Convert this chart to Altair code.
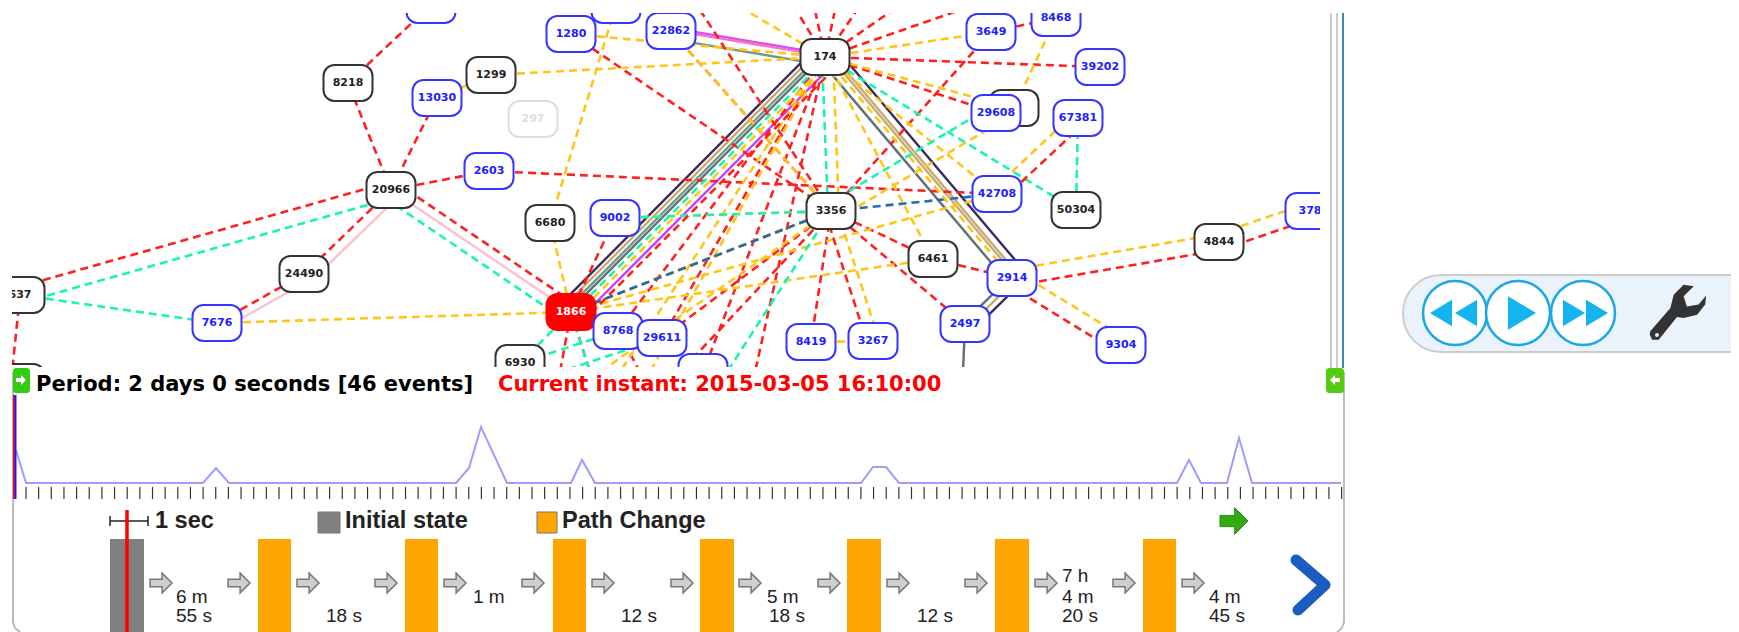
import math
import altair as alt
import pandas as pd

NODE_NAMES = ["8218","13030","1299","297","2603","20966","6680","9002","24490","637","7676","1866","8768","29611","1280","22862","6930",
              "t1","t2","174","3649","8468","39202","hid","29608","67381","42708","50304","3356","378","4844","6461","2914","2497","9304","8419","3267","b1","b2"]
NODE_X = [348,437,491,533,489,391,550,615,304,20,217,571,618,662,571,671,520,431,616,825,991,1056,1100,1014,996,1078,997,1076,831,1310,1219,933,1012,965,1121,811,873,703,20]
NODE_Y = [83,98,75,119,171,190,223,218,274,295,323,312,331,338,34,31,363,5,5,57,32,18,67,108,113,118,194,210,211,211,242,259,278,324,345,342,341,372,382]
NODE_KIND = ["k","b","k","g","b","k","k","b","k","k","b","r","b","b","b","b","k","b","b","k","b","b","b","k","b","b","b","k","k","b","k","k","b","b","b","b","b","b","k"]
NODE_TEXT = ["8218","13030","1299","297","2603","20966","6680","9002","24490","637","7676","1866","8768","29611","1280","22862","6930",
             "","","174","3649","8468","39202","","29608","67381","42708","50304","3356","378","4844","6461","2914","2497","9304","8419","3267","",""]
POS = dict(zip(NODE_NAMES, zip(NODE_X, NODE_Y)))
POS.update({"u1":(796,10),"u2":(815,10),"u3":(835,10),"u4":(857,10),"u5":(893,10),"u6":(960,10),"u7":(745,10),"u8":(700,10),
            "d1":(703,372),"d2":(755,372),"d3":(727,372),"d4":(680,372),"d5":(620,372),"d6":(600,372),"d7":(650,372),"d8":(560,372),
            "d9":(590,372),"d10":(12,372),"d11":(640,372),"d1b":(963,372)})

RED = [("8218","t1"),("20966","8218"),("20966","13030"),("20966","2603"),("2603","42708"),("20966","24490"),("24490","7676"),
       ("637","d10"),("174","u1"),("174","u2"),("174","u3"),("174","u4"),("174","u5"),("174","u6"),("3649","8468"),
       ("174","39202"),("174","29608"),("1280","3356"),("22862","3356"),("u8","3356"),("3649","3356"),("3356","1866"),("3356","6461"),
       ("3356","2497"),("3356","8419"),("6461","2914"),
       ("174","d1"),("174","d2"),("3356","29611"),("3356","d4"),("1866","d8"),("1866","d9"),("8768","d11"),("9002","1866"),("174","29611"),("174","8768")]
YELLOW = [("7676","1866"),("1299","174"),("1280","174"),("t2","6680"),("6680","1866"),("174","3649"),("174","hid"),("8468","hid"),("174","6461"),
          ("174","42708"),
          ("8419","3267"),("6461","1866"),("3356","1866"),("174","d5"),("3356","9002"),("13030","1299"),("174","u7"),
          ("3356","d6"),("22862","3356"),("42708","1866"),("174","d7")]
MINT = [("637","7676"),("174","50304"),("67381","50304"),("3356","9002"),
        ("3356","d3"),("1866","6930"),("8768","6930"),("1866","d9"),("29611","d8")]
BLUE = [("42708","3356"),("3356","1866")]

R,Yl,M = "#ff2020","#ffc61a","#19f5b0"
BUNDLES = [("1866","174","#3d2a5c",-13,"s"),("1866","174","#c8ab72",-9,"s"),("1866","174","#6f9a86",-5,"s"),("1866","174","#607078",-2,"s"),
           ("1866","174",M,2,"d"),("1866","174",Yl,6,"d"),("1866","174","#c83cff",11,"s"),("1866","174",R,15,"d"),
           ("174","2914","#3d2a5c",-14,"s"),("174","2914","#c8ab72",-7,"s"),("174","2914","#c8ab72",-4,"s"),("174","2914",Yl,0,"d"),("174","2914","#607078",6,"s"),
           ("2914","2497","#3d2a5c",-10,"s"),("2914","2497","#c8ab72",-4,"s"),("2914","2497","#607078",2,"s"),
           ("22862","174","#d050ff",-3,"s"),("22862","174","#ff70c0",-1,"s"),("22862","174","#6f9a86",8,"s"),("2497","d1b","#607078",0,"s"),
           ("637","20966",R,-8,"d"),("637","20966",M,8,"d"),("20966","1866",R,-9,"d"),("20966","1866","#ffc0cb",0,"s"),("20966","1866",M,10,"d"),
           ("20966","24490","#ffc0cb",-10,"s"),("24490","7676","#ffc0cb",-8,"s"),
           ("2914","4844",Yl,-8,"d"),("2914","4844",R,8,"d"),("4844","378",Yl,-8,"d"),("4844","378",R,8,"d"),
           ("2914","9304",R,8,"d"),("2914","9304",Yl,-8,"d"),("3356","3267",R,6,"d"),("3356","3267",Yl,-6,"d"),
           ("174","3356",M,3,"d"),("174","3356",Yl,-8,"d"),("3356","29608",M,-8,"d"),("3356","29608",Yl,10,"d"),
           ("42708","67381",Yl,-6,"d"),("42708","67381",R,8,"d")]

SPARK_X = [16,26,203,216,229,456,469,481,507,571,582,595,861,873,886,899,1177,1189,1201,1227,1239,1252,1341]
SPARK_Y = [450,483,483,468,483,483,468,427,483,483,460,483,483,467,467,483,483,460,483,483,438,483,483]
BAR_LEFT = [110,258,405,553,700,847,995,1143]
BAR_RIGHT = [144,291,438,586,734,881,1029,1176]
BAR_COLOR = ["#808080"]+["#ffa500"]*7
ARROW_X = [161,239,308,386,455,533,603,682,750,829,898,976,1046,1124,1193]
DUR_TEXT = ["6 m","55 s","18 s","1 m","12 s","5 m","18 s","12 s","7 h","4 m","20 s","4 m","45 s"]
DUR_X = [176,176,326,473,621,767,769,917,1062,1062,1062,1209,1209]
DUR_Y = [603,622,622,603,622,603,622,622,582,603,622,603,622]

XS = alt.Scale(domain=[8,1731], range=[0,1723], nice=False, zero=False, padding=0)
YS = alt.Scale(domain=[8,632], range=[0,624], nice=False, zero=False, padding=0)
def X(f="x"): return alt.X(f"{f}:Q", scale=XS, axis=None)
def Y(f="y"): return alt.Y(f"{f}:Q", scale=YS, axis=None)
NC = alt.Color("c:N", scale=None)

def seg_rows(edges, col):
    rows = []
    for a, b in edges:
        (x1,y1),(x2,y2) = POS[a],POS[b]
        rows.append(dict(x=x1,y=y1,x2=x2,y2=y2,c=col))
    return rows
dash_rows = seg_rows(RED,R)+seg_rows(YELLOW,Yl)+seg_rows(MINT,M)+seg_rows(BLUE,"#1f6fae")
solid_rows = []
for a,b,c,o,st in BUNDLES:
    (x1,y1),(x2,y2) = POS[a],POS[b]
    L = math.hypot(x2-x1,y2-y1)
    nx,ny = -(y2-y1)/L,(x2-x1)/L
    r = dict(x=x1+nx*o,y=y1+ny*o,x2=x2+nx*o,y2=y2+ny*o,c=c)
    (dash_rows if st=="d" else solid_rows).append(r)

def rule(rows, **kw):
    return alt.Chart(pd.DataFrame(rows)).mark_rule(**kw).encode(x=X(),y=Y(),x2=alt.X2("x2:Q"),y2=alt.Y2("y2:Q"),color=NC)
def rect(rows, **kw):
    return alt.Chart(pd.DataFrame(rows)).mark_rect(**kw).encode(x=X(),y=Y(),x2=alt.X2("x2:Q"),y2=alt.Y2("y2:Q"),color=NC)
def txt(rows, **kw):
    kw.setdefault("align","left"); kw.setdefault("baseline","alphabetic")
    return alt.Chart(pd.DataFrame(rows)).mark_text(**kw).encode(x=X(),y=Y(),text="t:N",color=NC)
def pts(xs, ys, shape, size, color, **kw):
    return alt.Chart(pd.DataFrame({"x":xs,"y":ys})).mark_point(shape=shape,size=size,filled=True,fill=color,opacity=1,**kw).encode(x=X(),y=Y())

layers = [rule(solid_rows,strokeWidth=2.4), rule(dash_rows,strokeWidth=2.6,strokeDash=[8,5])]

# nodes
STROKE = {"k":"#333333","b":"#3535ff","g":"#dddddd","r":"#ff0000"}
FILL = {"k":"#ffffff","b":"#ffffff","g":"#ffffff","r":"#ff0000"}
TXT = {"k":"#222222","b":"#2020ff","g":"#dddddd","r":"#ffffff"}
ndf = pd.DataFrame({"x":NODE_X,"y":NODE_Y,"t":NODE_TEXT,"k":NODE_KIND,"n":NODE_NAMES})
ndf["s"] = ndf.k.map(STROKE); ndf["f"] = ndf.k.map(FILL); ndf["c"] = ndf.k.map(TXT)
ndf["x0"]=ndf.x-24.5; ndf["x1"]=ndf.x+24.5; ndf["y0"]=ndf.y-18; ndf["y1"]=ndf.y+18
ndf["o"] = range(len(ndf))
layers.append(alt.Chart(ndf).mark_rect(cornerRadius=11,strokeWidth=2).encode(
    x=X("x0"),x2=alt.X2("x1:Q"),y=Y("y0"),y2=alt.Y2("y1:Q"),stroke=alt.Stroke("s:N",scale=None),fill=alt.Fill("f:N",scale=None),order="o:Q"))
layers.append(alt.Chart(ndf).mark_text(font="DejaVu Sans",fontWeight="bold",fontSize=11,align="center",baseline="middle").encode(
    x=X(),y=Y(),text="t:N",color=NC))

# masks that cut the graph to its frame
W = "#ffffff"
layers.append(rect([dict(x=8,x2=1345,y=8,y2=13,c=W),dict(x=8,x2=12,y=8,y2=370,c=W),dict(x=1320,x2=1345,y=8,y2=370,c=W),dict(x=8,x2=1345,y=367,y2=632,c=W)]))

# frame
for xv,col in [(1331,"#cccccc"),(1337,"#cccccc"),(1343,"#3a8ab0")]:
    layers.append(rule([dict(x=xv,y=13,x2=xv,y2=368,c=col)],strokeWidth=2))
FX=[13,13,15,20,1344,1344,1342,1337]; FY=[372,622,628,632,372,622,628,632]; FG=["l"]*4+["r"]*4
layers.append(alt.Chart(pd.DataFrame({"x":FX,"y":FY,"g":FG,"o":range(8)})).mark_line(stroke="#bbbbbb",strokeWidth=2).encode(x=X(),y=Y(),detail="g:N",order="o:Q"))

layers.append(txt([dict(x=36,y=391,t="Period: 2 days 0 seconds [46 events]",c="#000000")],font="DejaVu Sans",fontWeight="bold",fontSize=21))
layers.append(txt([dict(x=498,y=391,t="Current instant: 2015-03-05 16:10:00",c="#ff0000")],font="DejaVu Sans",fontWeight="bold",fontSize=21))

# flags
layers.append(rect([dict(x=13,x2=30,y=368,y2=393,c="#33cc11"),dict(x=1326,x2=1344,y=368,y2=393,c="#55cc11")],cornerRadius=3))
layers.append(pts([21],[380],"M-1,-0.4 L0,-0.4 L0,-1 L1,0 L0,1 L0,0.4 L-1,0.4 Z",100,"#ffffff"))
layers.append(pts([1335],[380],"M1,-0.4 L0,-0.4 L0,-1 L-1,0 L0,1 L0,0.4 L1,0.4 Z",100,"#ffffff"))

# sparkline & ticks
tick_x = [26+12.65*k for k in range(105)]
layers.append(rule([dict(x=v,y=487,x2=v,y2=499,c="#333333") for v in tick_x],strokeWidth=1.2))
layers.append(alt.Chart(pd.DataFrame({"x":SPARK_X,"y":SPARK_Y,"o":range(len(SPARK_X))})).mark_line(stroke="#9d9dff",strokeWidth=2).encode(x=X(),y=Y(),order="o:Q"))
layers.append(rule([dict(x=14,y=395,x2=14,y2=499,c="#ff0000"),dict(x=15.5,y=395,x2=15.5,y2=499,c="#2020ff")],strokeWidth=2))

# legend row
layers.append(rule([dict(x=110,y=521,x2=148,y2=521,c="#222222"),dict(x=110,y=516,x2=110,y2=526,c="#222222"),dict(x=148,y=516,x2=148,y2=526,c="#222222")],strokeWidth=1.5))
layers.append(txt([dict(x=155,y=528,t="1 sec",c="#222222"),dict(x=345,y=528,t="Initial state",c="#222222"),dict(x=562,y=528,t="Path Change",c="#222222")],font="Liberation Sans",fontWeight="bold",fontSize=23.5))
layers.append(rect([dict(x=318,x2=340,y=512,y2=533,c="#808080"),dict(x=537,x2=557,y=512,y2=533,c="#ffa500")],stroke="#777777",strokeWidth=1))
layers.append(pts([1234],[521],"M-1,-0.4 L0.05,-0.4 L0.05,-0.95 L1,0 L0.05,0.95 L0.05,0.4 L-1,0.4 Z",784,"#33aa11",stroke="#2a8a10",strokeWidth=1))

# timeline
layers.append(rect([dict(x=a,x2=b,y=539,y2=632,c=c) for a,b,c in zip(BAR_LEFT,BAR_RIGHT,BAR_COLOR)]))
layers.append(rule([dict(x=127,y=510,x2=127,y2=632,c="#ff0000")],strokeWidth=3.5))
layers.append(pts(ARROW_X,[583]*len(ARROW_X),"M-1,-0.35 L0.1,-0.35 L0.1,-0.9 L1,0 L0.1,0.9 L0.1,0.35 L-1,0.35 Z",484,"#cfcfcf",stroke="#777777",strokeWidth=1.5))
layers.append(txt([dict(x=a,y=b,t=t,c="#222222") for a,b,t in zip(DUR_X,DUR_Y,DUR_TEXT)],font="Liberation Sans",fontSize=19))
layers.append(rect([dict(x=1249,x2=1262,y=590,y2=632,c=W)]))

# chevron
layers.append(alt.Chart(pd.DataFrame({"x":[1296,1325,1298],"y":[560,585,610],"o":[0,1,2]})).mark_line(stroke="#1a5cc0",strokeWidth=11,strokeCap="round",strokeJoin="round").encode(x=X(),y=Y(),order="o:Q"))

# player controls
layers.append(rect([dict(x=1403,x2=1800,y=275,y2=352,c="#eaf3fb")],stroke="#cccccc",strokeWidth=2,cornerRadius=38,clip=True))
layers.append(pts([1455,1518,1583],[313,313,313],"circle",4096,"#ffffff",stroke="#1ba6e6",strokeWidth=2.5))
layers.append(pts([1441,1466],[313,313],"M1,-1.2 L1,1.2 L-1,0 Z",484,"#14b4f0"))
layers.append(pts([1522],[313],"M-1,-1.2 L-1,1.2 L1,0 Z",784,"#14b4f0"))
layers.append(pts([1574,1597],[313,313],"M-1,-1.2 L-1,1.2 L1,0 Z",484,"#14b4f0"))
WRENCH = "M-0.89,0.61 L-0.22,-0.17 L-0.11,-0.61 L0.22,-0.94 L0.56,-0.89 L0.22,-0.56 L0.33,-0.22 L0.72,-0.28 L0.97,-0.58 L0.94,-0.28 L0.67,0.06 L0.22,0.17 L0,0.13 L-0.61,0.89 L-0.83,0.89 L-0.91,0.72 Z"
layers.append(pts([1677],[313],WRENCH,3600,"#333333"))
layers.append(pts([1657],[335],"circle",16,"#eaf3fb"))

chart = alt.layer(*layers).properties(width=1723,height=624,padding=0,autosize=alt.AutoSizeParams(type="none")).configure_view(stroke=None)
chart.save("out.html", embed_options={"renderer":"svg","actions":False})
